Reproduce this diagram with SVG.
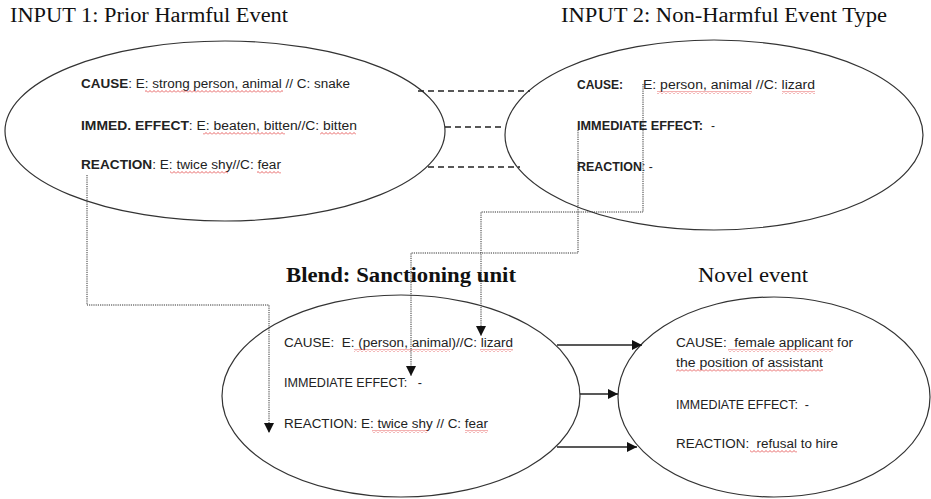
<svg xmlns="http://www.w3.org/2000/svg" width="931" height="499" viewBox="0 0 931 499">
<defs>
<style>
.bg{fill:#fff}
.ell{fill:none;stroke:#333;stroke-width:1.2}
.title{font-family:"Liberation Serif","Times New Roman",serif;font-size:20px;fill:#111}
.btitle{font-family:"Liberation Serif","Times New Roman",serif;font-size:20px;font-weight:bold;fill:#111}
.t{font-family:"Liberation Sans",Arial,sans-serif;font-size:12px;fill:#222;white-space:pre}
.b{font-weight:bold}
.dash{fill:none;stroke:#222;stroke-width:1.6;stroke-dasharray:6 4}
.dot{fill:none;stroke:#333;stroke-width:1;stroke-dasharray:1.2 1}
.solid{fill:none;stroke:#222;stroke-width:1.6}
.sq{fill:url(#squig)}
</style>
<pattern id="squig" width="4" height="3" patternUnits="userSpaceOnUse">
<path d="M0 2.5 L2 0.5 L4 2.5" fill="none" stroke="#d22" stroke-width="0.7"/>
</pattern>
<marker id="ah" markerWidth="10" markerHeight="10" refX="10" refY="5" orient="auto" markerUnits="userSpaceOnUse">
<path d="M0 0 L10 5 L0 10 Z" fill="#111"/>
</marker>
</defs>
<rect class="bg" width="931" height="499"/>

<g id="titles">
<text class="title" x="10" y="22" textLength="278" lengthAdjust="spacingAndGlyphs">INPUT 1: Prior Harmful Event</text>
<text class="title" x="561" y="22" textLength="326" lengthAdjust="spacingAndGlyphs">INPUT 2: Non-Harmful Event Type</text>
<text class="btitle" x="286" y="282" textLength="230" lengthAdjust="spacingAndGlyphs">Blend: Sanctioning unit</text>
<text class="title" x="698" y="282" textLength="110" lengthAdjust="spacingAndGlyphs">Novel event</text>
</g>

<g id="input1">
<ellipse class="ell" cx="225" cy="131" rx="220" ry="90"/>
<text class="t" x="81" y="88" textLength="269" lengthAdjust="spacingAndGlyphs"><tspan class="b">CAUSE</tspan>: E: strong person, animal // C: snake</text>
<text class="t" x="81" y="130" textLength="276" lengthAdjust="spacingAndGlyphs"><tspan class="b">IMMED. EFFECT</tspan>: E: beaten, bitten//C: bitten</text>
<text class="t" x="81" y="169" textLength="200" lengthAdjust="spacingAndGlyphs"><tspan class="b">REACTION</tspan>: E: twice shy//C: fear</text>
<rect class="sq" x="145" y="90" width="138" height="3"/>
<rect class="sq" x="203" y="132" width="82" height="3"/>
<rect class="sq" x="320" y="132" width="36" height="3"/>
<rect class="sq" x="170" y="171" width="58" height="3"/>
<rect class="sq" x="257" y="171" width="24" height="3"/>
</g>

<g id="input2">
<ellipse class="ell" cx="714" cy="135" rx="209" ry="95"/>
<text class="t b" x="577" y="89">CAUSE:</text>
<text class="t" x="643" y="89" textLength="172" lengthAdjust="spacingAndGlyphs">E: person, animal //C: lizard</text>
<text class="t b" x="577" y="130" textLength="126" lengthAdjust="spacingAndGlyphs">IMMEDIATE EFFECT:</text>
<text class="t" x="711" y="130">-</text>
<text class="t b" x="577" y="171" textLength="65" lengthAdjust="spacingAndGlyphs">REACTION</text>
<text class="t" x="642" y="171">: -</text>
<rect class="sq" x="657" y="91" width="95" height="3"/>
<rect class="sq" x="782" y="91" width="33" height="3"/>
</g>

<g id="blend">
<ellipse class="ell" cx="401" cy="396" rx="179" ry="101"/>
<text class="t" x="284" y="347" textLength="229" lengthAdjust="spacingAndGlyphs">CAUSE:  E: (person, animal)//C: lizard</text>
<text class="t" x="284" y="387" textLength="138" lengthAdjust="spacingAndGlyphs">IMMEDIATE EFFECT:   -</text>
<text class="t" x="284" y="428" textLength="204" lengthAdjust="spacingAndGlyphs">REACTION: E: twice shy // C: fear</text>
<rect class="sq" x="354" y="349" width="96" height="3"/>
<rect class="sq" x="480" y="349" width="33" height="3"/>
<rect class="sq" x="372" y="430" width="56" height="3"/>
<rect class="sq" x="465" y="430" width="23" height="3"/>
</g>

<g id="novel">
<ellipse class="ell" cx="774" cy="397" rx="156" ry="100"/>
<text class="t" x="676" y="347" textLength="177" lengthAdjust="spacingAndGlyphs">CAUSE:  female applicant for</text>
<text class="t" x="676" y="367" textLength="147" lengthAdjust="spacingAndGlyphs">the position of assistant</text>
<text class="t" x="676" y="409" textLength="133" lengthAdjust="spacingAndGlyphs">IMMEDIATE EFFECT:  -</text>
<text class="t" x="676" y="448" textLength="162" lengthAdjust="spacingAndGlyphs">REACTION:  refusal to hire</text>
<rect class="sq" x="728" y="349" width="105" height="3"/>
<rect class="sq" x="676" y="369" width="147" height="3"/>
<rect class="sq" x="750" y="450" width="47" height="3"/>
</g>

<g id="connectors">
<line class="dash" x1="418" y1="91" x2="530" y2="91"/>
<line class="dash" x1="445" y1="127" x2="505" y2="127"/>
<line class="dash" x1="428" y1="167" x2="520" y2="167"/>
<path class="dot" d="M87 175 V305 H269 V433" marker-end="url(#ah)"/>
<path class="dot" d="M643 84 V212 H481 V336" marker-end="url(#ah)"/>
<path class="dot" d="M578 130 V253 H411 V376" marker-end="url(#ah)"/>
<line class="solid" x1="557" y1="345" x2="642" y2="345" marker-end="url(#ah)"/>
<line class="solid" x1="580" y1="394" x2="618" y2="394" marker-end="url(#ah)"/>
<line class="solid" x1="557" y1="447" x2="637" y2="447" marker-end="url(#ah)"/>
</g>
</svg>
